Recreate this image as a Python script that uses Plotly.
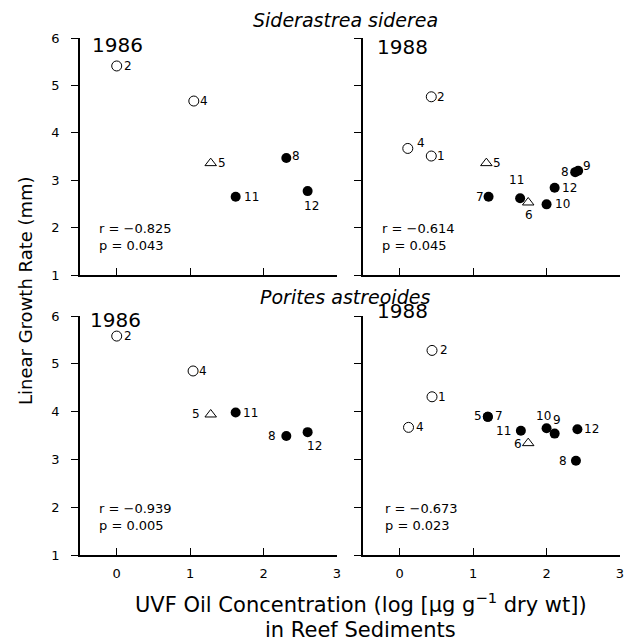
import plotly.graph_objects as go

# ---------------- data ----------------
# Siderastrea siderea 1986
ss86_site = ["2", "4", "5", "11", "8", "12"]
ss86_x = [0.00, 1.05, 1.28, 1.62, 2.31, 2.60]
ss86_y = [5.41, 4.67, 3.36, 2.65, 3.47, 2.77]
ss86_type = ["open", "open", "tri", "filled", "filled", "filled"]
ss86_stats = ["r = \u22120.825", "p = 0.043"]

# Siderastrea siderea 1988
ss88_site = ["2", "4", "1", "5", "7", "11", "6", "10", "12", "8", "9"]
ss88_x = [0.43, 0.11, 0.43, 1.18, 1.21, 1.64, 1.75, 2.00, 2.11, 2.39, 2.43]
ss88_y = [4.76, 3.67, 3.51, 3.36, 2.65, 2.62, 2.53, 2.49, 2.84, 3.17, 3.20]
ss88_type = ["open", "open", "open", "tri", "filled", "filled", "tri", "filled", "filled", "filled", "filled"]
ss88_stats = ["r = \u22120.614", "p = 0.045"]

# Porites astreoides 1986
pa86_site = ["2", "4", "5", "11", "8", "12"]
pa86_x = [0.00, 1.04, 1.28, 1.62, 2.31, 2.60]
pa86_y = [5.58, 4.85, 3.94, 3.98, 3.49, 3.57]
pa86_type = ["open", "open", "tri", "filled", "filled", "filled"]
pa86_stats = ["r = \u22120.939", "p = 0.005"]

# Porites astreoides 1988
pa88_site = ["2", "1", "4", "5", "7", "11", "6", "10", "9", "12", "8"]
pa88_x = [0.44, 0.44, 0.12, 1.20, 1.20, 1.65, 1.75, 2.00, 2.11, 2.42, 2.40]
pa88_y = [5.28, 4.31, 3.67, 3.89, 3.89, 3.60, 3.34, 3.65, 3.54, 3.63, 2.97]
pa88_type = ["open", "open", "open", "filled", "filled", "filled", "tri", "filled", "filled", "filled", "filled"]
pa88_stats = ["r = \u22120.673", "p = 0.023"]

years = ["1986", "1988", "1986", "1988"]
species = ["Siderastrea siderea", "Porites astreoides"]
x_ticks = [0, 1, 2, 3]
y_ticks = [1, 2, 3, 4, 5, 6]
x_title = "UVF Oil Concentration (log [\u03bcg g<sup>\u22121</sup> dry wt])"
x_title2 = "in Reef Sediments"
y_title = "Linear Growth Rate (mm)"

# ---------------- placement / style (not data) ----------------
# label offsets (dx, dy) in pixels from the marker centre, dy positive = down
ss86_off = [(11, 0), (10, 0), (11, 0), (16, 0), (10, -2), (4, 15)]
ss88_off = [(10, 0), (13, -5), (10, 0), (11, 0), (-9, 0), (-4, -18), (1, 13), (16, 0), (15, 0), (-10, 0), (9, -5)]
pa86_off = [(11, 0), (10, 0), (-15, 0), (15, 0), (-14, 0), (7, 14)]
pa88_off = [(12, 0), (10, 0), (11, 0), (-10, -1), (11, -1), (-17, 0), (-10, 1), (-3, -12), (2, -14), (14, 0), (-13, 0)]

FONT = "DejaVu Sans"
W, H = 631, 641
xdom = [[80 / W, 337 / W], [363 / W, 620 / W]]
ydom = [[1 - 275 / H, 1 - 38 / H], [1 - 555 / H, 1 - 316 / H]]

sym = {
    "open": dict(symbol="circle-open", size=10, color="black", line=dict(width=1, color="black")),
    "tri": dict(symbol="triangle-up-open", size=10, color="black", line=dict(width=1, color="black")),
    "filled": dict(symbol="circle", size=10, color="black", line=dict(width=0, color="black")),
}

panels = [
    (ss86_site, ss86_x, ss86_y, ss86_type, ss86_stats, ss86_off),
    (ss88_site, ss88_x, ss88_y, ss88_type, ss88_stats, ss88_off),
    (pa86_site, pa86_x, pa86_y, pa86_type, pa86_stats, pa86_off),
    (pa88_site, pa88_x, pa88_y, pa88_type, pa88_stats, pa88_off),
]
# year label: x (data), y shift in px below the top of the y axis (negative = above)
year_pos = [(-0.364, 7), (-0.336, 9), (-0.39, 4), (-0.336, -5)]
stats_x = [-0.27, -0.27, -0.27, -0.23]

fig = go.Figure()
annotations = []

for i, (site, xs, ys, typ, stats, off) in enumerate(panels):
    n = i + 1
    xr = "x" if n == 1 else f"x{n}"
    yr = "y" if n == 1 else f"y{n}"
    for t in ["tri", "open", "filled"]:
        px = [x for x, k in zip(xs, typ) if k == t]
        py = [y for y, k in zip(ys, typ) if k == t]
        if not px:
            continue
        fig.add_trace(go.Scatter(x=px, y=py, mode="markers", marker=sym[t],
                                 xaxis=xr, yaxis=yr, showlegend=False, cliponaxis=False,
                                 hoverinfo="skip"))
    for s, x, y, (dx, dy) in zip(site, xs, ys, off):
        annotations.append(dict(x=x, y=y, xref=xr, yref=yr, text=s, showarrow=False,
                                xanchor="center", yanchor="middle", xshift=dx, yshift=-dy,
                                font=dict(family=FONT, size=12, color="black")))
    yx, ydy = year_pos[i]
    annotations.append(dict(x=yx, y=6, xref=xr, yref=yr, text=years[i], showarrow=False,
                            xanchor="left", yanchor="middle", yshift=-ydy,
                            font=dict(family=FONT, size=20, color="black")))
    annotations.append(dict(x=stats_x[i], y=1.8, xref=xr, yref=yr,
                            text=stats[0] + "<br>" + stats[1], showarrow=False, align="left",
                            xanchor="left", yanchor="middle",
                            font=dict(family=FONT, size=13, color="black")))

# species titles
annotations.append(dict(x=345 / W, y=1 - 20 / H, xref="paper", yref="paper", text=f"<i>{species[0]}</i>",
                        showarrow=False, xanchor="center", yanchor="middle",
                        font=dict(family=FONT, size=19, color="black")))
annotations.append(dict(x=345 / W, y=1 - 297 / H, xref="paper", yref="paper", text=f"<i>{species[1]}</i>",
                        showarrow=False, xanchor="center", yanchor="middle",
                        font=dict(family=FONT, size=19, color="black")))
# axis titles
annotations.append(dict(x=361 / W, y=1 - 603 / H, xref="paper", yref="paper", text=x_title,
                        showarrow=False, xanchor="center", yanchor="middle",
                        font=dict(family=FONT, size=21, color="black")))
annotations.append(dict(x=361 / W, y=1 - 630 / H, xref="paper", yref="paper", text=x_title2,
                        showarrow=False, xanchor="center", yanchor="middle",
                        font=dict(family=FONT, size=21, color="black")))
annotations.append(dict(x=25 / W, y=1 - 291 / H, xref="paper", yref="paper", text=y_title,
                        showarrow=False, xanchor="center", yanchor="middle", textangle=-90,
                        font=dict(family=FONT, size=18, color="black")))

layout = dict(template="none", width=W, height=H,
              margin=dict(l=0, r=0, t=0, b=0, pad=0, autoexpand=False),
              paper_bgcolor="white", plot_bgcolor="white", showlegend=False,
              annotations=annotations, font=dict(family=FONT, color="black"))

for i in range(4):
    n = i + 1
    col = i % 2
    row = i // 2
    xa = dict(domain=xdom[col], range=[-0.5, 3], anchor="y" if n == 1 else f"y{n}",
              showline=True, linecolor="black", linewidth=1.5, showgrid=False, zeroline=False,
              ticks="inside", ticklen=7, tickwidth=1.3, tickcolor="black", tickvals=x_ticks,
              showticklabels=(row == 1), tickfont=dict(family=FONT, size=13, color="black"),
              ticklabelstandoff=6, fixedrange=True, automargin=False)
    ya = dict(domain=ydom[row], range=[1, 6], anchor="x" if n == 1 else f"x{n}",
              showline=True, linecolor="black", linewidth=1.5, showgrid=False, zeroline=False,
              ticks="outside", ticklen=7, tickwidth=1.3, tickcolor="black", tickvals=y_ticks,
              showticklabels=(col == 0), tickfont=dict(family=FONT, size=13, color="black"),
              ticklabelstandoff=9, fixedrange=True, automargin=False)
    layout["xaxis" if n == 1 else f"xaxis{n}"] = xa
    layout["yaxis" if n == 1 else f"yaxis{n}"] = ya

fig.update_layout(**layout)
fig.write_html("out.html")
